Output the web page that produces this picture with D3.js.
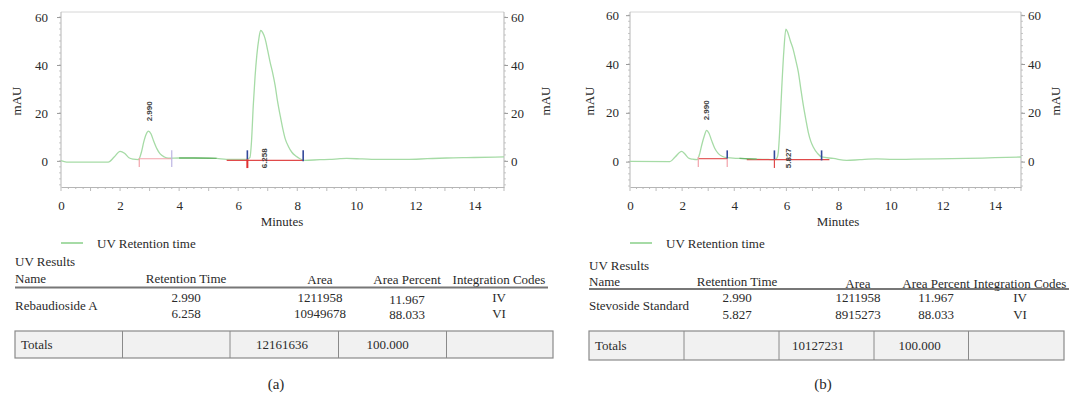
<!DOCTYPE html>
<html><head><meta charset="utf-8">
<script src="https://cdn.jsdelivr.net/npm/d3@7/dist/d3.min.js"></script>
<style>
html,body{margin:0;padding:0;background:#fff;}
svg text{fill:#222;}
</style></head>
<body>
<svg id="chart" width="1071" height="400"></svg>
<script>
// ---------- DATA ----------
const xTickValues = [0, 2, 4, 6, 8, 10, 12, 14];
const yTickValues = [0, 20, 40, 60];

// Chromatogram (a)
const timeA = [0, 0.19, 1.6, 1.8, 2.0, 2.15, 2.3, 2.45, 2.62, 2.72, 2.8, 2.88, 2.96, 3.05, 3.13, 3.25, 3.35, 3.5, 3.63, 4.0, 4.5, 5.27, 5.6, 6.29, 6.4, 6.45, 6.51, 6.57, 6.63, 6.7, 6.76, 6.83, 6.91, 7.0, 7.08, 7.17, 7.25, 7.33, 7.42, 7.5, 7.59, 7.7, 7.81, 7.95, 8.09, 8.26, 8.77, 9.1, 9.45, 9.67, 10.2, 10.8, 11.7, 12.4, 13.06, 14.0, 15.0];
const valueA = [0.1, -0.5, -0.5, 1.6, 4.0, 3.2, 1.3, 0.7, 0.5, 3.5, 7.8, 11.0, 12.4, 11.2, 8.5, 5.0, 3.0, 1.6, 1.1, 1.2, 1.2, 1.0, 0.6, 0.6, 1.5, 8, 23, 35, 44, 51, 54.4, 53.5, 51, 46, 41.2, 36.5, 31.5, 25, 19, 14, 9.3, 6, 3.7, 2, 0.9, 0.2, 0.5, 0.6, 0.9, 1.0, 0.8, 0.6, 0.6, 0.9, 1.2, 1.4, 1.7];

// Chromatogram (b)
const timeB = [0, 1.53, 1.73, 1.98, 2.1, 2.24, 2.4, 2.58, 2.68, 2.75, 2.85, 2.94, 3.03, 3.13, 3.25, 3.39, 3.55, 3.71, 4.2, 4.86, 5.3, 5.56, 5.64, 5.69, 5.75, 5.82, 5.9, 5.98, 6.05, 6.15, 6.26, 6.36, 6.46, 6.55, 6.65, 6.75, 6.84, 6.93, 7.03, 7.2, 7.35, 7.8, 8.31, 8.82, 9.46, 10.1, 10.87, 11.8, 12.9, 14.0, 15.0];
const valueB = [0.1, 0, 1.9, 4.2, 3.2, 1.5, 1.0, 0.8, 3.5, 6.7, 10.5, 12.8, 11.6, 8.7, 5.5, 3.3, 2.1, 1.6, 1.3, 1.0, 0.9, 0.8, 1.5, 3.9, 14, 29.8, 45, 54.3, 53, 49.5, 46, 41.5, 36.6, 30, 23, 17, 12, 8.5, 6, 3.3, 1.9, 1.3, 0.5, 0.8, 1.1, 0.9, 1.0, 1.1, 1.3, 1.6, 1.9];

// Peak labels (text, time, level of text start)
const peakLabelTextA = ["2.990", "6.258"];
const peakLabelTimeA = [2.99, 6.88];
const peakLabelLevelA = [16.5, -3.1];
const peakLabelTextB = ["2.990", "5.827"];
const peakLabelTimeB = [2.94, 6.05];
const peakLabelLevelB = [16.9, -2.7];

// Integration baselines: start, end, level, kind
const baseStartA = [2.65, 5.61], baseEndA = [3.75, 8.2], baseLevelA = [0.9, 0.2], baseKindA = ["pink", "red"];
const baseStartB = [2.62, 4.48], baseEndB = [3.73, 7.65], baseLevelB = [1.2, 0.8], baseKindB = ["red", "red"];
// Integration ticks: time, top, bottom, kind
const tickTimeA = [2.65, 3.75, 6.31, 6.31, 8.2];
const tickTopA = [1.2, 4.4, 4.4, 0.6, 4.4];
const tickBotA = [-2.6, -2.6, 0.6, -3.0, -0.2];
const tickKindA = ["pink", "lavender", "blue", "redThick", "blue"];
const tickTimeB = [2.62, 3.73, 3.73, 5.54, 5.54, 7.35];
const tickTopB = [1.9, 4.6, 1.2, 4.6, 0.9, 4.6];
const tickBotB = [-2.2, 1.2, -2.2, 0.9, -2.6, 0.5];
const tickKindB = ["pink", "blue", "pink", "blue", "red", "blue"];
// darker overlapping baseline segments of the trace
const darkSegA = [3.76, 5.45];
const darkSegB = [3.73, 4.9];

// Table contents
const headerCols = ["Name", "Retention Time", "Area", "Area Percent", "Integration Codes"];
const nameA = "Rebaudioside A";
const rtA = ["2.990", "6.258"];
const areaA = ["1211958", "10949678"];
const pctA = ["11.967", "88.033"];
const codeA = ["IV", "VI"];
const totalsA = ["Totals", "", "12161636", "100.000", ""];
const nameB = "Stevoside Standard";
const rtB = ["2.990", "5.827"];
const areaB = ["1211958", "8915273"];
const pctB = ["11.967", "88.033"];
const codeB = ["IV", "VI"];
const totalsB = ["Totals", "", "10127231", "100.000", ""];
const panelLetters = ["(a)", "(b)"];
const legendLabel = "UV Retention time";
const xTitle = "Minutes";
const yTitle = "mAU";

// ---------- DRAWING ----------
const SERIF = '"Liberation Serif", "Times New Roman", serif';
const SANS = '"Liberation Sans", Arial, sans-serif';
const svg = d3.select("#chart");
const colors = {pink: "#f2a3ab", red: "#e04a4a", redThick: "#e03030", blue: "#33489a", lavender: "#bdb5e3"};
const traceColor = "#a6dba6";
const darkTrace = "#6db76d";

function serifText(sel, size) {
  return sel.style("font-family", SERIF).style("font-size", size + "px").style("fill", "#2a2a2a");
}

function drawChart(o) {
  const x = d3.scaleLinear().domain([0, 15]).range([o.left, o.right]);
  const y = d3.scaleLinear().domain(o.yDomain).range([187, 12]);
  const g = svg.append("g");

  g.append("line").attr("x1", o.left).attr("x2", o.right).attr("y1", 12).attr("y2", 12).attr("stroke", "#d6d6d6");
  const yMinor = d3.range(-10, 61, 2.5);
  [[o.left, -1], [o.right, 1]].forEach(([xp, dir]) => {
    g.selectAll(null).data(yMinor).enter().append("line")
      .attr("x1", xp).attr("x2", xp + dir * 2).attr("y1", d => y(d)).attr("y2", d => y(d))
      .attr("stroke", "#bbb").attr("stroke-width", 0.8);
  });
  const axL = d3.axisLeft(y).tickValues(yTickValues).tickSize(4).tickPadding(o.padL).tickFormat(d3.format("d"));
  const axR = d3.axisRight(y).tickValues(yTickValues).tickSize(4).tickPadding(3).tickFormat(d3.format("d"));
  const gl = g.append("g").attr("transform", `translate(${o.left},0)`).call(axL);
  const gr = g.append("g").attr("transform", `translate(${o.right},0)`).call(axR);
  [gl, gr].forEach(a => {
    a.select(".domain").remove();
    a.selectAll(".tick line").attr("stroke", "#999");
    serifText(a.selectAll("text"), 13);
  });
  g.append("line").attr("x1", o.left).attr("x2", o.left).attr("y1", 12).attr("y2", 187).attr("stroke", "#b5b5b5");
  g.append("line").attr("x1", o.right).attr("x2", o.right).attr("y1", 12).attr("y2", 187).attr("stroke", "#b5b5b5");

  const xMinor = d3.range(0, 15.01, 0.25);
  g.selectAll(null).data(xMinor).enter().append("line")
    .attr("x1", d => x(d)).attr("x2", d => x(d)).attr("y1", 187).attr("y2", d => Math.abs(d - Math.round(d)) < 1e-6 ? 191 : 189)
    .attr("stroke", "#aaa").attr("stroke-width", 0.8);
  const axB = d3.axisBottom(x).tickValues(xTickValues).tickSize(0).tickPadding(14).tickFormat(d3.format("d"));
  const gb = g.append("g").attr("transform", "translate(0,187)").call(axB);
  gb.select(".domain").attr("stroke", "#b5b5b5");
  serifText(gb.selectAll("text"), 13);

  serifText(g.append("text").attr("x", o.xTitleX).attr("y", 226).attr("text-anchor", "middle").text(xTitle), 13);
  [o.yTitleL, o.yTitleR].forEach(xp => {
    serifText(g.append("text").attr("transform", `translate(${xp},101) rotate(-90)`).attr("text-anchor", "middle")
      .attr("dy", "0.35em").text(yTitle), 13);
  });

  const pts = o.times.map((t, i) => [t, o.values[i]]);
  const line = d3.line().x(d => x(d[0])).y(d => y(d[1])).curve(d3.curveMonotoneX);
  g.append("path").datum(pts).attr("d", line).attr("fill", "none").attr("stroke", traceColor).attr("stroke-width", 1.3);

  o.bStart.forEach((s, i) => {
    g.append("line").attr("x1", x(s)).attr("x2", x(o.bEnd[i])).attr("y1", y(o.bLevel[i])).attr("y2", y(o.bLevel[i]))
      .attr("stroke", colors[o.bKind[i]]).attr("stroke-width", 1.1);
  });
  const seg = pts.filter(d => d[0] >= o.dark[0] && d[0] <= o.dark[1]);
  g.append("path").datum(seg).attr("d", line).attr("fill", "none").attr("stroke", darkTrace).attr("stroke-width", 1.3);
  o.tTime.forEach((t, i) => {
    const k = o.tKind[i];
    g.append("line").attr("x1", x(t)).attr("x2", x(t)).attr("y1", y(o.tTop[i])).attr("y2", y(o.tBot[i]))
      .attr("stroke", colors[k]).attr("stroke-width", k === "redThick" ? 2 : (k === "blue" ? 1.6 : 1.2));
  });
  o.pText.forEach((s, i) => {
    g.append("text").attr("transform", `translate(${x(o.pTime[i])},${y(o.pLevel[i])}) rotate(-90)`)
      .attr("dy", "0.35em").style("font-family", SANS).style("font-size", "8px").style("font-weight", "bold")
      .style("fill", "#444").text(s);
  });

  g.append("line").attr("x1", o.legX).attr("x2", o.legX + 22).attr("y1", 243).attr("y2", 243)
    .attr("stroke", traceColor).attr("stroke-width", 2);
  serifText(g.append("text").attr("x", o.legX + 36).attr("y", 247.5).text(legendLabel), 13);
}

function drawTable(o) {
  const g = svg.append("g");
  const fs = 13;
  serifText(g.append("text").attr("x", o.left).attr("y", o.uvY).text("UV Results"), fs);
  headerCols.forEach((h, i) => {
    serifText(g.append("text").attr("x", i === 0 ? o.left : o.colC[i]).attr("y", i < 2 ? o.hY : o.hY + 1.5)
      .attr("text-anchor", i === 0 ? "start" : "middle").text(h), fs);
  });
  g.append("line").attr("x1", o.left).attr("x2", o.ruleEnd).attr("y1", o.ruleY).attr("y2", o.ruleY)
    .attr("stroke", "#777").attr("stroke-width", 2);
  serifText(g.append("text").attr("x", o.left).attr("y", (o.r1 + o.r2) / 2).text(o.name), fs);
  [o.rt, o.area, o.pct, o.code].forEach((col, c) => {
    col.forEach((v, r) => {
      serifText(g.append("text").attr("x", o.colC[c + 1]).attr("y", (r ? o.r2 : o.r1) + (c === 2 ? o.pctShift : 0))
        .attr("text-anchor", "middle").text(v), fs);
    });
  });
  g.append("rect").attr("x", o.left).attr("y", o.boxTop).attr("width", o.boxRight - o.left).attr("height", o.boxBot - o.boxTop)
    .attr("fill", "#f1f1f1").attr("stroke", "#8a8a8a").attr("stroke-width", 1.2);
  o.div.forEach(d => g.append("line").attr("x1", d).attr("x2", d).attr("y1", o.boxTop).attr("y2", o.boxBot)
    .attr("stroke", "#8a8a8a").attr("stroke-width", 1));
  o.totals.forEach((t, i) => {
    if (!t) return;
    serifText(g.append("text").attr("x", i === 0 ? o.left + 6 : o.totC[i]).attr("y", (o.boxTop + o.boxBot) / 2 + 4.5)
      .attr("text-anchor", i === 0 ? "start" : "middle").text(t), fs);
  });
  serifText(g.append("text").attr("x", o.letterX).attr("y", 389).attr("text-anchor", "middle").text(o.letter), 15);
}

drawChart({left: 61, right: 504, yDomain: [-10.9, 62.1], padL: 9, xTitleX: 282, yTitleL: 16, yTitleR: 545,
  times: timeA, values: valueA, bStart: baseStartA, bEnd: baseEndA, bLevel: baseLevelA, bKind: baseKindA,
  tTime: tickTimeA, tTop: tickTopA, tBot: tickBotA, tKind: tickKindA, dark: darkSegA,
  pText: peakLabelTextA, pTime: peakLabelTimeA, pLevel: peakLabelLevelA, legX: 61});
drawChart({left: 630, right: 1021, yDomain: [-10.4, 61.3], padL: 7, xTitleX: 838, yTitleL: 589, yTitleR: 1055,
  times: timeB, values: valueB, bStart: baseStartB, bEnd: baseEndB, bLevel: baseLevelB, bKind: baseKindB,
  tTime: tickTimeB, tTop: tickTopB, tBot: tickBotB, tKind: tickKindB, dark: darkSegB,
  pText: peakLabelTextB, pTime: peakLabelTimeB, pLevel: peakLabelLevelB, legX: 630});

drawTable({left: 15, uvY: 266, hY: 282.5, ruleY: 287.5, ruleEnd: 548, colC: [15, 186, 320, 407, 499],
  r1: 302, r2: 317.5, pctShift: 1.5, name: nameA, rt: rtA, area: areaA, pct: pctA, code: codeA,
  boxTop: 331, boxBot: 358, boxRight: 553, div: [122.5, 230, 338.5, 446.5], totC: [0, 176, 282, 387.5, 500],
  totals: totalsA, letter: panelLetters[0], letterX: 276});
drawTable({left: 589, uvY: 269.5, hY: 286, ruleY: 289, ruleEnd: 1069, colC: [589, 737, 858, 936, 1020],
  r1: 302, r2: 318.5, pctShift: 0, name: nameB, rt: rtB, area: areaB, pct: pctB, code: codeB,
  boxTop: 331, boxBot: 360, boxRight: 1064, div: [684, 779, 874, 968.5], totC: [0, 731, 818, 919.5, 1016],
  totals: totalsB, letter: panelLetters[1], letterX: 823});
</script>
</body></html>
